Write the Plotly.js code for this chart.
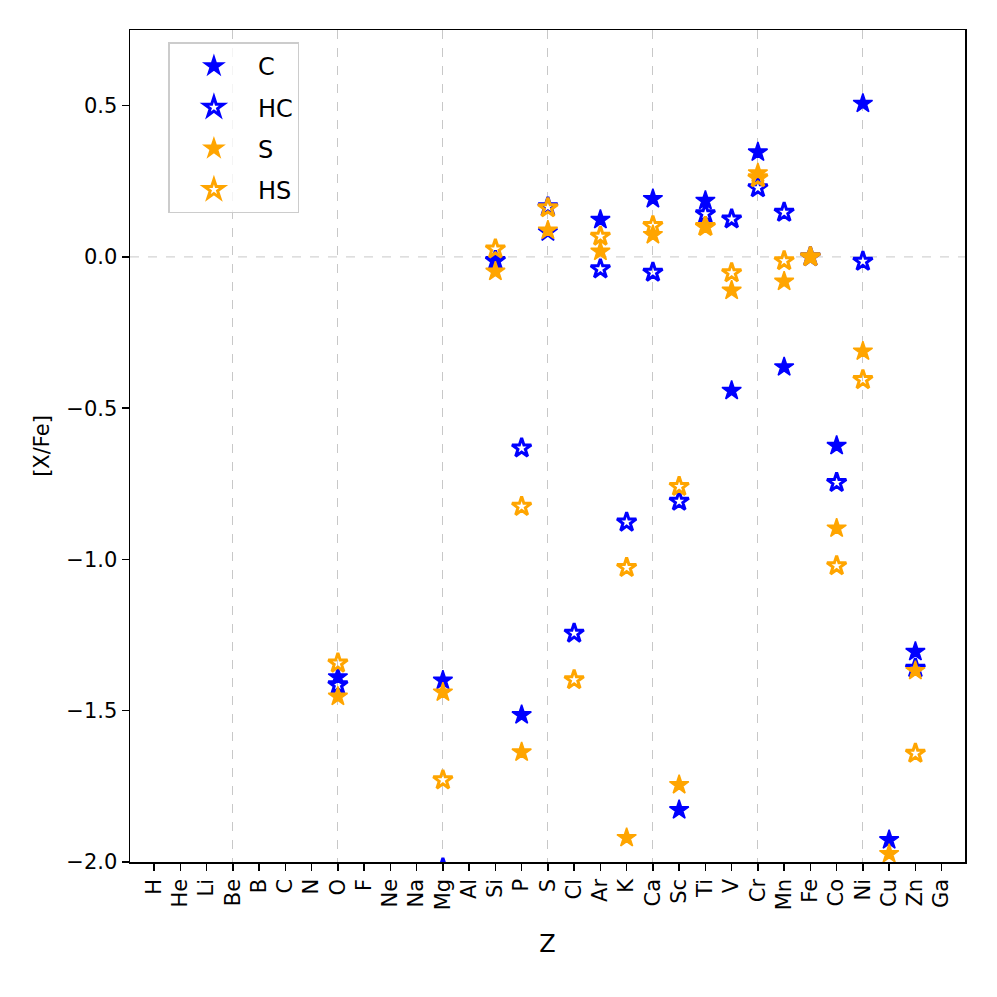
<!DOCTYPE html>
<html>
<head>
<meta charset="utf-8">
<script src="https://cdn.plot.ly/plotly-3.0.1.min.js"></script>
<style>
  body { margin: 0; background: #fff; }
  #graph { width: 997px; height: 997px; }
</style>
</head>
<body>
<div id="graph"></div>
<script>
// element symbols, Z = 1..31
var elements = ['H', 'He', 'Li', 'Be', 'B', 'C', 'N', 'O', 'F', 'Ne', 'Na', 'Mg', 'Al', 'Si', 'P',
    'S', 'Cl', 'Ar', 'K', 'Ca', 'Sc', 'Ti', 'V', 'Cr', 'Mn', 'Fe', 'Co', 'Ni', 'Cu', 'Zn', 'Ga'];
var zNums = elements.map(function(e, i) { return i + 1; });
var gridZ = [4, 8, 12, 16, 20, 24, 28];

// C
var cZ = [8, 12, 14, 15, 16, 18, 20, 21, 22, 23, 24, 25, 26, 27, 28, 29, 30];
var cVal = [-1.389, -1.40, -0.012, -1.514, 0.082, 0.123, 0.192, -1.828, 0.186, -0.442, 0.346,
    -0.364, 0.0, -0.624, 0.507, -1.927, -1.305];
// HC
var hcZ = [8, 12, 14, 15, 16, 17, 18, 19, 20, 21, 22, 23, 24, 25, 26, 27, 28, 30];
var hcVal = [-1.415, -2.02, -0.012, -0.632, 0.165, -1.244, -0.040, -0.877, -0.051, -0.808, 0.142,
    0.125, 0.228, 0.147, 0.0, -0.746, -0.015, -1.36];
// S
var sZ = [8, 12, 14, 15, 16, 18, 19, 20, 21, 22, 23, 24, 25, 26, 27, 28, 29, 30];
var sVal = [-1.453, -1.439, -0.048, -1.637, 0.088, 0.018, -1.920, 0.073, -1.745, 0.101, -0.111,
    0.277, -0.081, 0.0, -0.897, -0.312, -1.973, -1.368];
// HS
var hsZ = [8, 12, 14, 15, 16, 17, 18, 19, 20, 21, 22, 23, 24, 25, 26, 27, 28, 30];
var hsVal = [-1.343, -1.729, 0.026, -0.825, 0.162, -1.398, 0.068, -1.027, 0.103, -0.759, 0.10,
    -0.053, 0.261, -0.013, 0.0, -1.021, -0.406, -1.641];

function star(name, x, y, color, open) {
    return {
        type: 'scatter',
        mode: 'markers',
        name: name,
        legendgroup: name,
        x: x,
        y: y,
        cliponaxis: true,
        marker: {
            symbol: open ? 'star-open' : 'star',
            size: 14.5,
            color: color,
            line: {color: color, width: open ? 3 : 1.5}
        }
    };
}

var data = [
    star('C', cZ, cVal, 'blue', false),
    star('HC', hcZ, hcVal, 'blue', true),
    star('S', sZ, sVal, 'orange', false),
    star('HS', hsZ, hsVal, 'orange', true)
];

var font = {family: 'DejaVu Sans', size: 21, color: '#000'};
var xRange = [0.08, 31.89];

var layout = {
    width: 997,
    height: 997,
    margin: {l: 130, r: 32, t: 30, b: 135},
    paper_bgcolor: '#fff',
    plot_bgcolor: '#fff',
    font: font,
    showlegend: true,
    legend: {
        x: 0.046, y: 0.985, xanchor: 'left', yanchor: 'top',
        bordercolor: '#cccccc', borderwidth: 1.5,
        bgcolor: 'rgba(255,255,255,0.8)',
        font: {family: 'DejaVu Sans', size: 24, color: '#000'},
        traceorder: 'grouped', tracegroupgap: 7,
        itemwidth: 78
    },
    xaxis: {
        range: xRange,
        tickmode: 'array',
        tickvals: zNums,
        ticktext: elements,
        tickangle: -90,
        ticks: 'outside', ticklen: 7, tickwidth: 1.5, tickcolor: '#000',
        showgrid: false, zeroline: false,
        showline: true, linecolor: '#000', linewidth: 1.5, mirror: true,
        title: {text: 'Z', font: {family: 'DejaVu Sans', size: 24, color: '#000'}, standoff: 26}
    },
    xaxis2: {
        overlaying: 'x',
        range: xRange,
        tickmode: 'array',
        tickvals: gridZ,
        showticklabels: false,
        ticks: '',
        showgrid: true, gridcolor: '#c8c8c8', gridwidth: 1, griddash: 'dash',
        zeroline: false, showline: false
    },
    yaxis: {
        range: [-2.0, 0.75],
        tickmode: 'linear', tick0: 0, dtick: 0.5,
        tickformat: '.1f',
        ticks: 'outside', ticklen: 7, tickwidth: 1.5, tickcolor: '#000',
        showgrid: false, zeroline: false,
        showline: true, linecolor: '#000', linewidth: 1.5, mirror: true,
        title: {text: '[X/Fe]', font: font, standoff: 11}
    },
    shapes: [{
        type: 'line', xref: 'paper', yref: 'y', x0: 0, x1: 1, y0: 0, y1: 0,
        line: {color: '#c8c8c8', width: 1, dash: 'dash'}, layer: 'below'
    }]
};

// empty trace so the grid axis is drawn
data.unshift({type: 'scatter', x: [], y: [], xaxis: 'x2', showlegend: false, hoverinfo: 'skip'});

Plotly.newPlot('graph', data, layout, {displayModeBar: false, staticPlot: true});
</script>
</body>
</html>
